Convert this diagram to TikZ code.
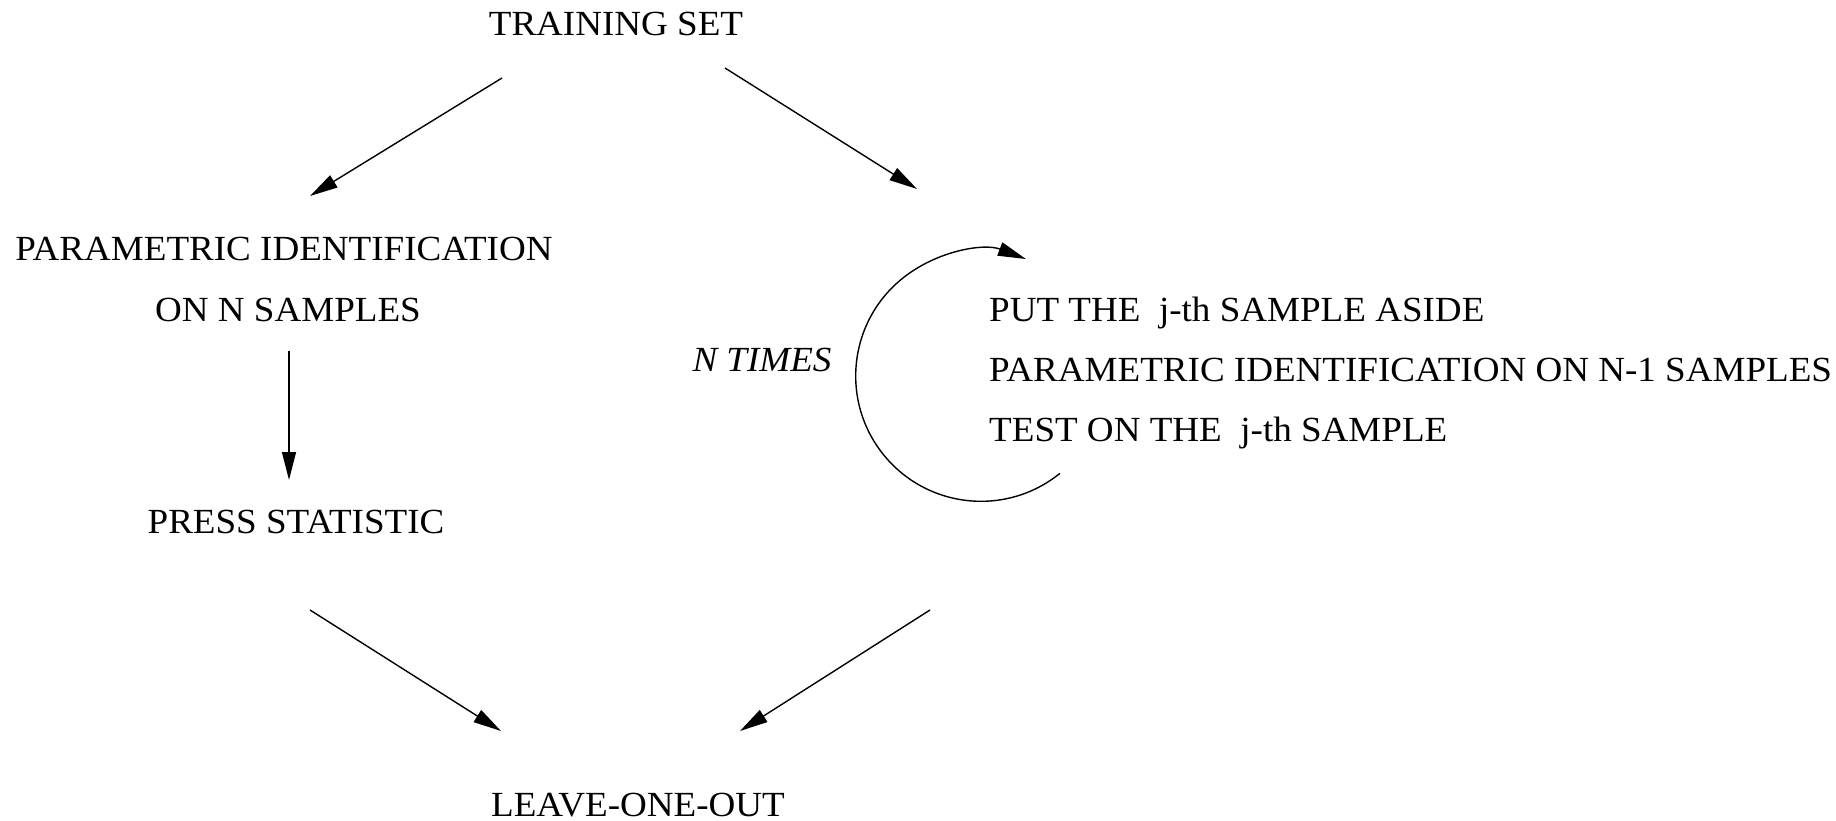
\documentclass[tikz,border=0pt]{standalone}
\usepackage{fontspec}
\setmainfont[FakeStretch=1.05]{Liberation Serif}
\usetikzlibrary{arrows.meta}
\begin{document}
\begin{tikzpicture}[x=1pt,y=1pt,
  lbl/.style={inner sep=0pt, font=\fontsize{35.3}{42}\selectfont},
  flow/.style={line width=1.4pt, -{Triangle[length=28pt,width=14pt]}}]
\useasboundingbox (0,0) rectangle (1836,-821);

% labels
\node[lbl, anchor=base] (train) at (616,-36) {TRAINING SET};
\node[lbl, anchor=base] (pid)   at (284,-260) {PARAMETRIC IDENTIFICATION};
\node[lbl, anchor=base] (pidn)  at (288,-321) {ON N SAMPLES};
\node[lbl, anchor=base] (press) at (296,-533) {PRESS STATISTIC};
\node[lbl, anchor=base] (loo)   at (638,-816) {LEAVE-ONE-OUT};
\node[lbl, anchor=base, font=\fontsize{35.3}{42}\selectfont\itshape] (ntimes) at (762,-371) {N TIMES};
\node[lbl, anchor=base west] (put)  at (989,-321) {PUT THE\ \ j-th SAMPLE ASIDE};
\node[lbl, anchor=base west] (pidm) at (989,-381) {PARAMETRIC IDENTIFICATION ON N-1 SAMPLES};
\node[lbl, anchor=base west] (test) at (989,-441) {TEST ON THE\ \ j-th SAMPLE};

% connector end points
\coordinate (tl0) at (502,-78);  \coordinate (tl1) at (310,-196);
\coordinate (tr0) at (725,-68);  \coordinate (tr1) at (917,-189);
\coordinate (dn0) at (289,-351); \coordinate (dn1) at (289,-480);
\coordinate (bl0) at (310,-610); \coordinate (bl1) at (501,-731);
\coordinate (br0) at (930,-610); \coordinate (br1) at (740,-731);
\coordinate (loopc) at (981,-376);

% connectors
\draw[flow] (tl0) -- (tl1);
\draw[flow] (tr0) -- (tr1);
\draw[flow] (dn0) -- (dn1);
\draw[flow] (bl0) -- (bl1);
\draw[flow] (br0) -- (br1);

% repetition loop
\draw[flow] ([shift={(-51:125.3)}]loopc) arc[start angle=-51, end angle=-291, radius=125.3];
\end{tikzpicture}
\end{document}
